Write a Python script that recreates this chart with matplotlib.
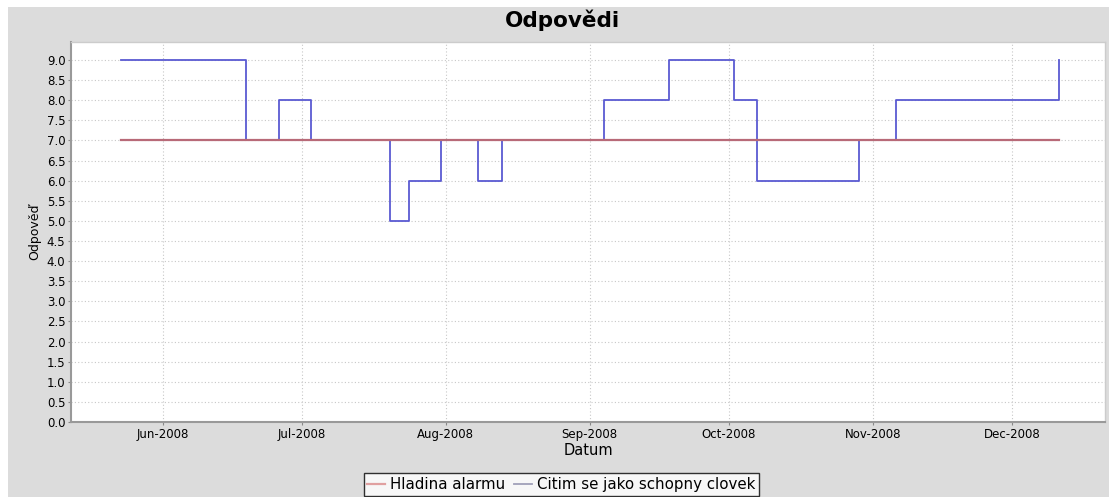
import datetime as dt

import matplotlib
matplotlib.use('Agg')
import matplotlib.pyplot as plt
import matplotlib.dates as mdates
from matplotlib.patches import Rectangle


# answers over time (step chart, value holds until next date)
answer_dates = [
	'2008-05-23', '2008-06-19', '2008-06-26', '2008-07-03', '2008-07-20',
	'2008-07-24', '2008-07-31', '2008-08-08', '2008-08-13', '2008-09-04',
	'2008-09-18', '2008-10-02', '2008-10-07', '2008-10-29', '2008-11-06',
	'2008-12-11',
]
answer_values = [9, 7, 8, 7, 5, 6, 7, 6, 7, 8, 9, 8, 6, 7, 8, 9]

alarm_dates = ['2008-05-23', '2008-12-11']
alarm_values = [7, 7]

month_ticks = ['2008-06-01', '2008-07-01', '2008-08-01', '2008-09-01',
	'2008-10-01', '2008-11-01', '2008-12-01']


def to_dates(items: list) -> list:
	return [dt.datetime.strptime(item, '%Y-%m-%d') for item in items]


def main() -> None:
	fig = plt.figure(figsize=(11.09, 4.97), dpi=100, facecolor='white')
	fig.patches.append(Rectangle((8 / 1109, 0), 1, 1 - 7 / 497, transform=fig.transFigure,
		facecolor='#dcdcdc', edgecolor='none', zorder=-10))

	ax = fig.add_axes([0.064, 0.151, 0.9324, 0.7646])
	ax.set_facecolor('white')

	ax.plot(to_dates(answer_dates), answer_values, drawstyle='steps-post',
		color='#5a5ad2', linewidth=1.3, label='Citim se jako schopny clovek', zorder=3)
	ax.plot(to_dates(alarm_dates), alarm_values, color='#b86a78', linewidth=1.6,
		label='Hladina alarmu', zorder=4)

	ax.set_ylim(0, 9.45)
	ax.set_yticks([i * 0.5 for i in range(19)])
	ax.yaxis.set_major_formatter(matplotlib.ticker.FormatStrFormatter('%.1f'))
	ax.set_xlim(dt.datetime(2008, 5, 12, 6), dt.datetime(2008, 12, 21))
	ax.set_xticks(to_dates(month_ticks))
	ax.xaxis.set_major_formatter(mdates.DateFormatter('%b-%Y'))

	ax.grid(True, color='#c8c8c8', linestyle=(0, (1, 2)), linewidth=0.8)
	ax.tick_params(axis='both', labelsize=8.5, length=2, color='#888888', pad=2)
	for side in ('left', 'bottom'):
		ax.spines[side].set_color('#999999')
		ax.spines[side].set_linewidth(1.5)
	for side in ('top', 'right'):
		ax.spines[side].set_color('#cccccc')
		ax.spines[side].set_linewidth(1)

	ax.set_xlabel('Datum', fontsize=10.5, labelpad=2)
	ax.set_ylabel('Odpověď', fontsize=9, labelpad=4)

	fig.text(0.507, 1 - 20 / 497, 'Odpovědi', fontsize=15.5, fontweight='bold',
		ha='center', va='center')

	handles, labels = ax.get_legend_handles_labels()
	leg = fig.legend(handles[::-1], labels[::-1], loc='upper center', bbox_to_anchor=(0.506, 0.048),
		ncol=2, fontsize=10.8, frameon=True, fancybox=False, edgecolor='black',
		handlelength=1.2, handletextpad=0.3, columnspacing=0.6, borderpad=0.25, borderaxespad=0)
	leg.get_frame().set_linewidth(1)
	leg.legend_handles[0].set_color('#e0a0a0')
	leg.legend_handles[1].set_color('#a0a0b8')

	fig.savefig('out.png', dpi=100, facecolor=fig.get_facecolor())


if __name__ == '__main__':
	main()
